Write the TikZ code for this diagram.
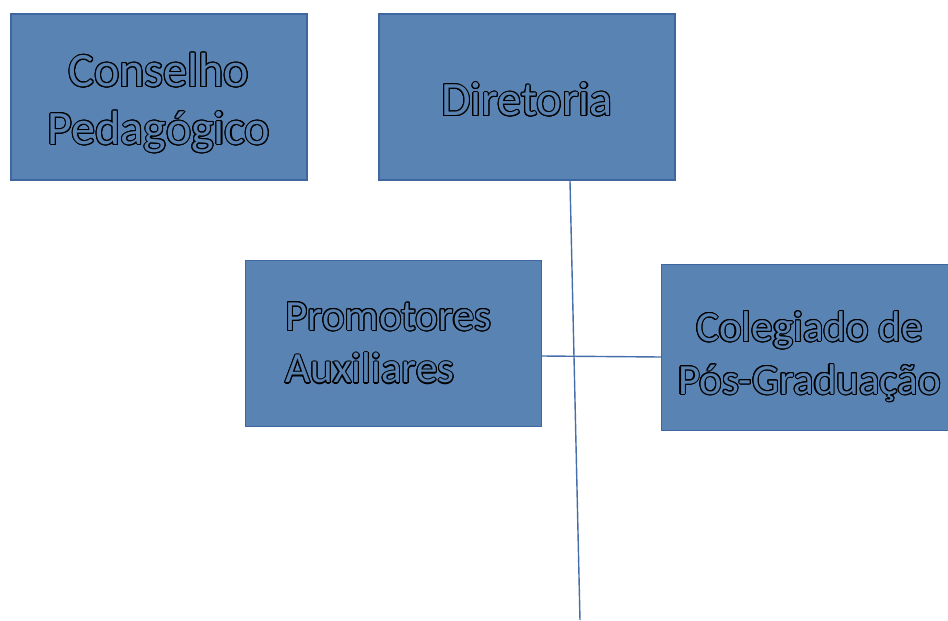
\documentclass[tikz,border=0pt]{standalone}
\usepackage{fontspec}
\setmainfont{Carlito}
\usepackage{contour}
\usepackage{tikz}
\usetikzlibrary{positioning}

\definecolor{boxblue}{RGB}{89,131,179}
\definecolor{edgeblue}{RGB}{62,102,160}
\definecolor{lineblue}{RGB}{70,110,170}

\contourlength{0.6pt}
\newcommand{\outl}[1]{\contour{black}{#1}}

\begin{document}
\begin{tikzpicture}[x=0.02cm,y=-0.02cm,
    orgbox/.style={draw=edgeblue, line width=0.8pt, fill=boxblue,
      minimum width=5.92cm, minimum height=3.32cm},
    bigtext/.style={text=boxblue, align=center, font=\fontsize{27.3}{32.9}\selectfont},
    smalltext/.style={text=boxblue, align=center, font=\fontsize{24.5}{30}\selectfont},
    orgline/.style={draw=lineblue, line width=0.8pt}]

          \clip (0,0) rectangle (948,620);

          %Caixas
          \node [orgbox, label={[bigtext, yshift=-0.13cm]center:{\outl{Conselho}\\\outl{Pedagógico}}}]
            (cons) at (159,97) {};
          \node [orgbox, label={[bigtext, yshift=-0.06cm]center:\outl{Diretoria}}]
            (dir) at (527,97) {};
          \node [orgbox, label={[smalltext, text width=4.32cm, align=left]center:{\outl{Promotores}\\\outl{Auxiliares}}}]
            (prom) at (393.5,343.5) {};
          \node [orgbox, label={[smalltext, yshift=-0.19cm]center:{\outl{Colegiado de}\\\outl{Pós-Graduação}}}]
            (coleg) at (809.5,347.5) {};

          %Linhas
          \coordinate (base) at (580,620);
          \draw [orgline] ([xshift=0.86cm]dir.south) -- (base);
          \draw [orgline] ([yshift=-0.25cm]prom.east) -- ([yshift=-0.19cm]coleg.west);

\end{tikzpicture}
\end{document}
